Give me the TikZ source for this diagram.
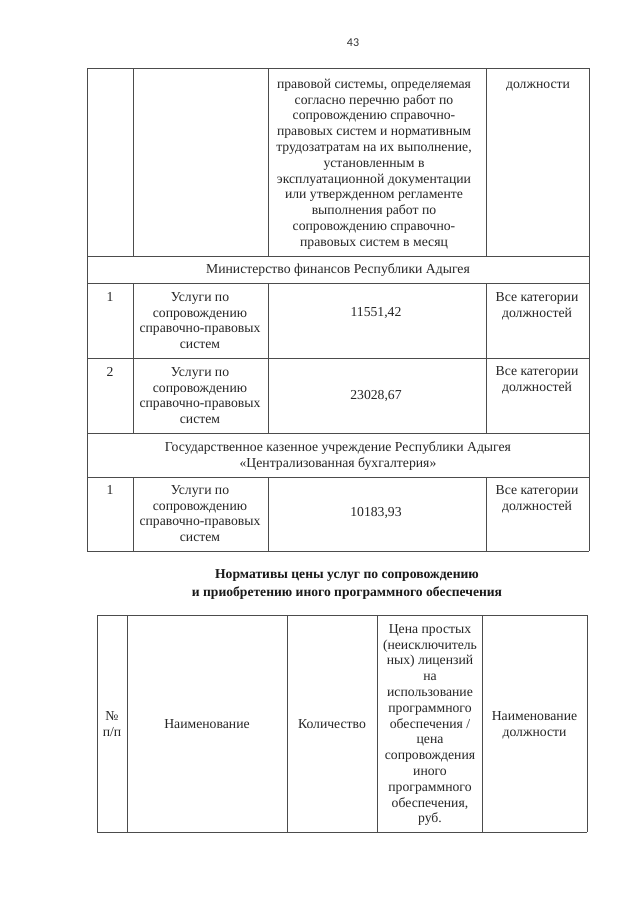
\documentclass[tikz,border=0pt]{standalone}
\usepackage{fontspec}
\setmainfont{Liberation Serif}
\newfontfamily\pgnumfont{Carlito}
\newcommand\fsz{\fontsize{13.7}{15.8}\selectfont}
\newcommand\fszb{\fontsize{13.6}{17.7}\selectfont\bfseries}
\begin{document}
\begin{tikzpicture}[x=1pt,y=-1pt,
  cell/.style={inner sep=0pt, align=center, anchor=north, font=\fsz, text=black!85},
  ttl/.style={inner sep=0pt, align=center, anchor=north, font=\fszb, text=black!90},
  rule/.style={draw=black!70, line width=0.9pt}]
\useasboundingbox[fill=white] (0,0) rectangle (640,905);

% page number
\node[inner sep=0pt, font=\pgnumfont\fontsize{12}{14}\selectfont, text=black!80] (pg) at (353,43) {43};

% ---------- top table grid ----------
\foreach \yy in {68,256,283,358,433,477,551}
  \draw[rule] (87,\yy) -- (589,\yy);
\draw[rule] (87,68) -- (87,551);
\draw[rule] (589,68) -- (589,551);
\foreach \xx in {133,268,486}{
  \draw[rule] (\xx,68) -- (\xx,256);
  \draw[rule] (\xx,283) -- (\xx,433);
  \draw[rule] (\xx,477) -- (\xx,551);
}

% first (continued) row
\node[cell] (c13) at (374,77) {\strut правовой системы, определяемая\\согласно перечню работ по\\сопровождению справочно-\\правовых систем и нормативным\\трудозатратам на их выполнение,\\установленным в\\эксплуатационной документации\\или утвержденном регламенте\\выполнения работ по\\сопровождению справочно-\\правовых систем в месяц};
\node[cell] (c14) at (538,77) {\strut должности};

% ministry row
\node[cell] (min) at (338,262) {\strut Министерство финансов Республики Адыгея};

% row 1
\node[cell] (r1a) at (110,290) {\strut 1};
\node[cell] (r1b) at (200,290) {\strut Услуги по\\сопровождению\\справочно-правовых\\систем};
\node[cell] (r1c) at (376,305) {\strut 11551,42};
\node[cell] (r1d) at (537,290) {\strut Все категории\\должностей};

% row 2
\node[cell] (r2a) at (110,365) {\strut 2};
\node[cell] (r2b) at (200,365) {\strut Услуги по\\сопровождению\\справочно-правовых\\систем};
\node[cell] (r2c) at (376,388) {\strut 23028,67};
\node[cell] (r2d) at (537,364) {\strut Все категории\\должностей};

% institution row
\node[cell] (gov) at (338,440) {\strut Государственное казенное учреждение Республики Адыгея\\«Централизованная бухгалтерия»};

% row 3
\node[cell] (r3a) at (110,483) {\strut 1};
\node[cell] (r3b) at (200,483) {\strut Услуги по\\сопровождению\\справочно-правовых\\систем};
\node[cell] (r3c) at (376,505) {\strut 10183,93};
\node[cell] (r3d) at (537,483) {\strut Все категории\\должностей};

% ---------- title ----------
\node[ttl] (title) at (347,566) {\strut Нормативы цены услуг по сопровождению\\и приобретению иного программного обеспечения};

% ---------- bottom table ----------
\draw[rule] (97,615) -- (587,615);
\draw[rule] (97,832) -- (587,832);
\foreach \xx in {97,127,287,377,482,587}
  \draw[rule] (\xx,615) -- (\xx,832);

\node[cell] (h1) at (112,709) {\strut №\\п/п};
\node[cell] (h2) at (207,717) {\strut Наименование};
\node[cell] (h3) at (332,717) {\strut Количество};
\node[cell] (h4) at (430,622) {\strut Цена простых\\(неисключитель\\ных) лицензий\\на\\использование\\программного\\обеспечения /\\цена\\сопровождения\\иного\\программного\\обеспечения,\\руб.};
\node[cell] (h5) at (534.5,709) {\strut Наименование\\должности};
\end{tikzpicture}
\end{document}
